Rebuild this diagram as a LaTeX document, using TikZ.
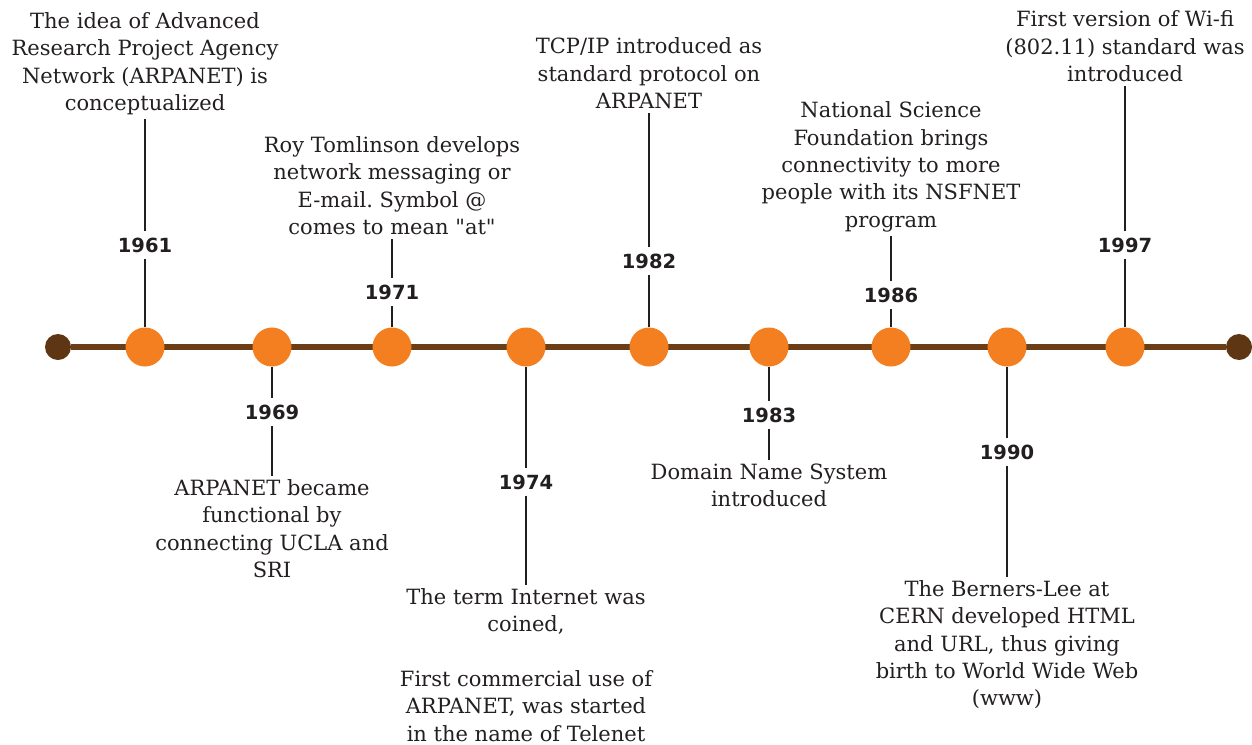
\documentclass[tikz,border=0pt]{standalone}
\usepackage{fontspec}
\setmainfont{DejaVu Serif}
\newfontfamily\annofont{DejaVu Sans}
\definecolor{Orange}{RGB}{244, 127, 32}
\definecolor{Brown}{RGB}{107, 62, 22}
\definecolor{DarkBrown}{RGB}{94, 54, 20}
\definecolor{Grey90}{RGB}{35, 31, 32}
\tikzset{
    evento/.style = {align=center, text=Grey90, inner sep=4pt, font=\fontsize{21}{27.3}\selectfont\frenchspacing},
    anno/.style = {anchor=base, text=Grey90, font=\annofont\bfseries\fontsize{19.5}{23}\selectfont, inner xsep=2pt, inner ysep=6.5pt, text height=14pt, text depth=0pt},
    stelo/.style = {draw=Grey90, line width=2.6pt}
}

\begin{document}
\begin{tikzpicture}[
        x=1pt, y=-1pt,
        tappa/.style = {circle, inner sep=0pt, minimum size=39pt, fill=Orange},
        estremo/.style = {circle, inner sep=0pt, minimum size=26pt, fill=DarkBrown}
    ]
    \useasboundingbox (0,0) rectangle (1252,744);

    \node (inizio) at (58,347)   [estremo] {};
    \node (fine)   at (1239,347) [estremo] {};
    \draw[Brown, line width=5.5pt] (inizio) -- (fine);

    \node (t61) at (145,347)  [tappa] {};
    \node (t69) at (272,347)  [tappa] {};
    \node (t71) at (392,347)  [tappa] {};
    \node (t74) at (526,347)  [tappa] {};
    \node (t82) at (649,347)  [tappa] {};
    \node (t83) at (769,347)  [tappa] {};
    \node (t86) at (891,347)  [tappa] {};
    \node (t90) at (1007,347) [tappa] {};
    \node (t97) at (1125,347) [tappa] {};

    \node[anno] (a61) at (145,252)  {1961};
    \node[anno] (a69) at (272,419)  {1969};
    \node[anno] (a71) at (392,299)  {1971};
    \node[anno] (a74) at (526,489)  {1974};
    \node[anno] (a82) at (649,268)  {1982};
    \node[anno] (a83) at (769,422)  {1983};
    \node[anno] (a86) at (891,302)  {1986};
    \node[anno] (a90) at (1007,459) {1990};
    \node[anno] (a97) at (1125,252) {1997};

    \node[evento, anchor=south] (e61) at (145,119) {The idea of Advanced\\ Research Project Agency\\ Network (ARPANET) is\\ conceptualized};
    \node[evento, anchor=north] (e69) at (272,475.5) {ARPANET became\\ functional by\\ connecting UCLA and\\ SRI};
    \node[evento, anchor=south] (e71) at (392,239) {Roy Tomlinson develops\\ network messaging or\\ E-mail. Symbol @\\ comes to mean \textquotedbl at\textquotedbl};
    \node[evento, anchor=north] (e74) at (526,584.5) {The term Internet was\\ coined,\\[27.3pt] First commercial use of\\ ARPANET, was started\\ in the name of Telenet};
    \node[evento, anchor=south] (e82) at (649,113) {TCP/IP introduced as\\ standard protocol on\\ ARPANET};
    \node[evento, anchor=north] (e83) at (769,459.5) {Domain Name System\\ introduced};
    \node[evento, anchor=south] (e86) at (891,236) {National Science\\ Foundation brings\\ connectivity to more\\ people with its NSFNET\\ program};
    \node[evento, anchor=north] (e90) at (1007,576.5) {The Berners-Lee at\\ CERN developed HTML\\ and URL, thus giving\\ birth to World Wide Web\\ (www)};
    \node[evento, anchor=south] (e97) at (1125,86) {First version of Wi-fi\\ (802.11) standard was\\ introduced};

    \draw[stelo] (t61) -- (a61);  \draw[stelo] (a61) -- (e61);
    \draw[stelo] (t69) -- (a69);  \draw[stelo] (a69) -- (e69);
    \draw[stelo] (t71) -- (a71);  \draw[stelo] (a71) -- (e71);
    \draw[stelo] (t74) -- (a74);  \draw[stelo] (a74) -- (e74);
    \draw[stelo] (t82) -- (a82);  \draw[stelo] (a82) -- (e82);
    \draw[stelo] (t83) -- (a83);  \draw[stelo] (a83) -- (e83);
    \draw[stelo] (t86) -- (a86);  \draw[stelo] (a86) -- (e86);
    \draw[stelo] (t90) -- (a90);  \draw[stelo] (a90) -- (e90);
    \draw[stelo] (t97) -- (a97);  \draw[stelo] (a97) -- (e97);

\end{tikzpicture}
\end{document}
